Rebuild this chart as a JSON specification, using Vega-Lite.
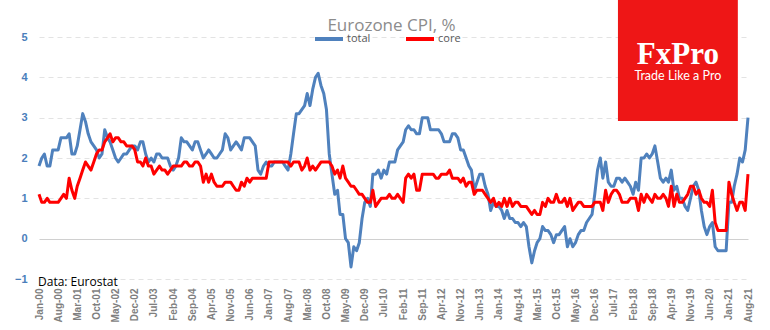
{
"$schema": "https://vega.github.io/schema/vega-lite/v6.json",
"width": 709, "height": 242,
"autosize": {"type": "none"},
"padding": {"left": 39, "top": 37, "right": 22, "bottom": 51},
"background": "white",
"config": {"view": {"stroke": null}, "font": "Open Sans"},
"datasets": {"cpi": [
{"d":"2000-01-01","total":1.8,"core":1.1},{"d":"2000-02-01","total":2.0,"core":0.9},{"d":"2000-03-01","total":2.1,"core":0.9},{"d":"2000-04-01","total":1.8,"core":1.0},{"d":"2000-05-01","total":1.8,"core":0.9},{"d":"2000-06-01","total":2.2,"core":0.9},{"d":"2000-07-01","total":2.2,"core":0.9},{"d":"2000-08-01","total":2.2,"core":0.9},{"d":"2000-09-01","total":2.5,"core":1.0},{"d":"2000-10-01","total":2.5,"core":1.1},{"d":"2000-11-01","total":2.5,"core":1.0},{"d":"2000-12-01","total":2.6,"core":1.5},
{"d":"2001-01-01","total":2.1,"core":1.2},{"d":"2001-02-01","total":2.1,"core":1.0},{"d":"2001-03-01","total":2.3,"core":1.3},{"d":"2001-04-01","total":2.7,"core":1.5},{"d":"2001-05-01","total":3.1,"core":1.7},{"d":"2001-06-01","total":2.9,"core":1.9},{"d":"2001-07-01","total":2.6,"core":1.8},{"d":"2001-08-01","total":2.4,"core":1.7},{"d":"2001-09-01","total":2.3,"core":1.9},{"d":"2001-10-01","total":2.2,"core":2.1},{"d":"2001-11-01","total":2.0,"core":2.2},{"d":"2001-12-01","total":2.1,"core":2.2},
{"d":"2002-01-01","total":2.7,"core":2.4},{"d":"2002-02-01","total":2.5,"core":2.5},{"d":"2002-03-01","total":2.4,"core":2.6},{"d":"2002-04-01","total":2.2,"core":2.4},{"d":"2002-05-01","total":2.0,"core":2.5},{"d":"2002-06-01","total":1.9,"core":2.5},{"d":"2002-07-01","total":2.0,"core":2.4},{"d":"2002-08-01","total":2.1,"core":2.4},{"d":"2002-09-01","total":2.1,"core":2.3},{"d":"2002-10-01","total":2.2,"core":2.3},{"d":"2002-11-01","total":2.3,"core":2.3},{"d":"2002-12-01","total":2.3,"core":2.2},
{"d":"2003-01-01","total":2.2,"core":1.9},{"d":"2003-02-01","total":2.4,"core":1.9},{"d":"2003-03-01","total":2.4,"core":1.8},{"d":"2003-04-01","total":2.1,"core":2.0},{"d":"2003-05-01","total":1.9,"core":1.8},{"d":"2003-06-01","total":2.0,"core":1.8},{"d":"2003-07-01","total":1.9,"core":1.6},{"d":"2003-08-01","total":2.1,"core":1.7},{"d":"2003-09-01","total":2.1,"core":1.8},{"d":"2003-10-01","total":2.0,"core":1.7},{"d":"2003-11-01","total":2.0,"core":1.7},{"d":"2003-12-01","total":2.0,"core":1.6},
{"d":"2004-01-01","total":1.8,"core":1.7},{"d":"2004-02-01","total":1.7,"core":1.8},{"d":"2004-03-01","total":1.8,"core":1.8},{"d":"2004-04-01","total":2.0,"core":1.8},{"d":"2004-05-01","total":2.5,"core":1.8},{"d":"2004-06-01","total":2.4,"core":1.9},{"d":"2004-07-01","total":2.4,"core":1.9},{"d":"2004-08-01","total":2.3,"core":1.8},{"d":"2004-09-01","total":2.2,"core":1.8},{"d":"2004-10-01","total":2.4,"core":1.9},{"d":"2004-11-01","total":2.4,"core":1.9},{"d":"2004-12-01","total":2.2,"core":1.8},
{"d":"2005-01-01","total":2.0,"core":1.4},{"d":"2005-02-01","total":2.1,"core":1.6},{"d":"2005-03-01","total":2.2,"core":1.4},{"d":"2005-04-01","total":2.1,"core":1.6},{"d":"2005-05-01","total":2.0,"core":1.4},{"d":"2005-06-01","total":2.0,"core":1.3},{"d":"2005-07-01","total":2.1,"core":1.3},{"d":"2005-08-01","total":2.2,"core":1.3},{"d":"2005-09-01","total":2.6,"core":1.4},{"d":"2005-10-01","total":2.5,"core":1.4},{"d":"2005-11-01","total":2.2,"core":1.4},{"d":"2005-12-01","total":2.3,"core":1.3},
{"d":"2006-01-01","total":2.4,"core":1.2},{"d":"2006-02-01","total":2.3,"core":1.2},{"d":"2006-03-01","total":2.2,"core":1.4},{"d":"2006-04-01","total":2.5,"core":1.3},{"d":"2006-05-01","total":2.5,"core":1.5},{"d":"2006-06-01","total":2.5,"core":1.4},{"d":"2006-07-01","total":2.4,"core":1.5},{"d":"2006-08-01","total":2.3,"core":1.5},{"d":"2006-09-01","total":1.7,"core":1.5},{"d":"2006-10-01","total":1.6,"core":1.5},{"d":"2006-11-01","total":1.8,"core":1.5},{"d":"2006-12-01","total":1.9,"core":1.5},
{"d":"2007-01-01","total":1.8,"core":1.9},{"d":"2007-02-01","total":1.8,"core":1.9},{"d":"2007-03-01","total":1.9,"core":1.9},{"d":"2007-04-01","total":1.9,"core":1.9},{"d":"2007-05-01","total":1.9,"core":1.9},{"d":"2007-06-01","total":1.9,"core":1.9},{"d":"2007-07-01","total":1.8,"core":1.9},{"d":"2007-08-01","total":1.7,"core":1.9},{"d":"2007-09-01","total":2.1,"core":1.8},{"d":"2007-10-01","total":2.6,"core":1.9},{"d":"2007-11-01","total":3.1,"core":1.9},{"d":"2007-12-01","total":3.1,"core":1.9},
{"d":"2008-01-01","total":3.2,"core":1.7},{"d":"2008-02-01","total":3.3,"core":1.8},{"d":"2008-03-01","total":3.6,"core":2.0},{"d":"2008-04-01","total":3.3,"core":1.7},{"d":"2008-05-01","total":3.7,"core":1.8},{"d":"2008-06-01","total":4.0,"core":1.7},{"d":"2008-07-01","total":4.1,"core":1.8},{"d":"2008-08-01","total":3.8,"core":1.9},{"d":"2008-09-01","total":3.6,"core":1.9},{"d":"2008-10-01","total":3.2,"core":1.9},{"d":"2008-11-01","total":2.1,"core":1.9},{"d":"2008-12-01","total":1.6,"core":1.8},
{"d":"2009-01-01","total":1.1,"core":1.6},{"d":"2009-02-01","total":1.2,"core":1.7},{"d":"2009-03-01","total":0.6,"core":1.5},{"d":"2009-04-01","total":0.6,"core":1.8},{"d":"2009-05-01","total":0.0,"core":1.5},{"d":"2009-06-01","total":-0.1,"core":1.4},{"d":"2009-07-01","total":-0.7,"core":1.3},{"d":"2009-08-01","total":-0.2,"core":1.3},{"d":"2009-09-01","total":-0.3,"core":1.2},{"d":"2009-10-01","total":-0.1,"core":1.1},{"d":"2009-11-01","total":0.5,"core":1.1},{"d":"2009-12-01","total":0.9,"core":1.0},
{"d":"2010-01-01","total":1.0,"core":0.9},{"d":"2010-02-01","total":0.8,"core":0.9},{"d":"2010-03-01","total":1.6,"core":1.2},{"d":"2010-04-01","total":1.6,"core":0.8},{"d":"2010-05-01","total":1.7,"core":0.9},{"d":"2010-06-01","total":1.5,"core":1.0},{"d":"2010-07-01","total":1.7,"core":1.0},{"d":"2010-08-01","total":1.6,"core":1.0},{"d":"2010-09-01","total":1.9,"core":1.1},{"d":"2010-10-01","total":1.9,"core":1.0},{"d":"2010-11-01","total":1.9,"core":1.0},{"d":"2010-12-01","total":2.2,"core":1.1},
{"d":"2011-01-01","total":2.3,"core":1.0},{"d":"2011-02-01","total":2.4,"core":0.9},{"d":"2011-03-01","total":2.7,"core":1.5},{"d":"2011-04-01","total":2.8,"core":1.6},{"d":"2011-05-01","total":2.7,"core":1.5},{"d":"2011-06-01","total":2.7,"core":1.6},{"d":"2011-07-01","total":2.6,"core":1.2},{"d":"2011-08-01","total":2.6,"core":1.2},{"d":"2011-09-01","total":3.0,"core":1.6},{"d":"2011-10-01","total":3.0,"core":1.6},{"d":"2011-11-01","total":3.0,"core":1.6},{"d":"2011-12-01","total":2.7,"core":1.6},
{"d":"2012-01-01","total":2.7,"core":1.6},{"d":"2012-02-01","total":2.7,"core":1.5},{"d":"2012-03-01","total":2.7,"core":1.5},{"d":"2012-04-01","total":2.6,"core":1.6},{"d":"2012-05-01","total":2.4,"core":1.6},{"d":"2012-06-01","total":2.4,"core":1.6},{"d":"2012-07-01","total":2.4,"core":1.7},{"d":"2012-08-01","total":2.6,"core":1.5},{"d":"2012-09-01","total":2.6,"core":1.5},{"d":"2012-10-01","total":2.5,"core":1.5},{"d":"2012-11-01","total":2.2,"core":1.4},{"d":"2012-12-01","total":2.2,"core":1.5},
{"d":"2013-01-01","total":2.0,"core":1.3},{"d":"2013-02-01","total":1.8,"core":1.4},{"d":"2013-03-01","total":1.7,"core":1.4},{"d":"2013-04-01","total":1.2,"core":1.1},{"d":"2013-05-01","total":1.4,"core":1.2},{"d":"2013-06-01","total":1.6,"core":1.2},{"d":"2013-07-01","total":1.6,"core":1.2},{"d":"2013-08-01","total":1.3,"core":1.1},{"d":"2013-09-01","total":1.1,"core":1.0},{"d":"2013-10-01","total":0.7,"core":0.9},{"d":"2013-11-01","total":0.9,"core":1.0},{"d":"2013-12-01","total":0.8,"core":0.8},
{"d":"2014-01-01","total":0.8,"core":0.9},{"d":"2014-02-01","total":0.7,"core":0.8},{"d":"2014-03-01","total":0.5,"core":1.0},{"d":"2014-04-01","total":0.7,"core":0.8},{"d":"2014-05-01","total":0.5,"core":1.0},{"d":"2014-06-01","total":0.5,"core":0.8},{"d":"2014-07-01","total":0.4,"core":0.9},{"d":"2014-08-01","total":0.4,"core":0.9},{"d":"2014-09-01","total":0.3,"core":0.8},{"d":"2014-10-01","total":0.4,"core":0.8},{"d":"2014-11-01","total":0.3,"core":0.8},{"d":"2014-12-01","total":-0.2,"core":0.7},
{"d":"2015-01-01","total":-0.6,"core":0.6},{"d":"2015-02-01","total":-0.3,"core":0.7},{"d":"2015-03-01","total":-0.1,"core":0.6},{"d":"2015-04-01","total":0.0,"core":0.6},{"d":"2015-05-01","total":0.3,"core":0.9},{"d":"2015-06-01","total":0.2,"core":0.8},{"d":"2015-07-01","total":0.2,"core":1.0},{"d":"2015-08-01","total":0.1,"core":0.9},{"d":"2015-09-01","total":-0.1,"core":0.9},{"d":"2015-10-01","total":0.1,"core":1.1},{"d":"2015-11-01","total":0.1,"core":0.9},{"d":"2015-12-01","total":0.2,"core":0.9},
{"d":"2016-01-01","total":0.3,"core":1.0},{"d":"2016-02-01","total":-0.2,"core":0.8},{"d":"2016-03-01","total":0.0,"core":1.0},{"d":"2016-04-01","total":-0.2,"core":0.7},{"d":"2016-05-01","total":-0.1,"core":0.8},{"d":"2016-06-01","total":0.1,"core":0.9},{"d":"2016-07-01","total":0.2,"core":0.9},{"d":"2016-08-01","total":0.2,"core":0.8},{"d":"2016-09-01","total":0.4,"core":0.8},{"d":"2016-10-01","total":0.5,"core":0.8},{"d":"2016-11-01","total":0.6,"core":0.8},{"d":"2016-12-01","total":1.1,"core":0.9},
{"d":"2017-01-01","total":1.7,"core":0.9},{"d":"2017-02-01","total":2.0,"core":0.9},{"d":"2017-03-01","total":1.5,"core":0.7},{"d":"2017-04-01","total":1.9,"core":1.2},{"d":"2017-05-01","total":1.4,"core":0.9},{"d":"2017-06-01","total":1.3,"core":1.1},{"d":"2017-07-01","total":1.3,"core":1.2},{"d":"2017-08-01","total":1.5,"core":1.2},{"d":"2017-09-01","total":1.5,"core":1.1},{"d":"2017-10-01","total":1.4,"core":0.9},{"d":"2017-11-01","total":1.5,"core":0.9},{"d":"2017-12-01","total":1.4,"core":0.9},
{"d":"2018-01-01","total":1.3,"core":1.0},{"d":"2018-02-01","total":1.1,"core":1.0},{"d":"2018-03-01","total":1.4,"core":1.0},{"d":"2018-04-01","total":1.2,"core":0.7},{"d":"2018-05-01","total":2.0,"core":1.1},{"d":"2018-06-01","total":2.0,"core":0.9},{"d":"2018-07-01","total":2.1,"core":1.1},{"d":"2018-08-01","total":2.0,"core":1.0},{"d":"2018-09-01","total":2.1,"core":0.9},{"d":"2018-10-01","total":2.3,"core":1.1},{"d":"2018-11-01","total":1.9,"core":1.0},{"d":"2018-12-01","total":1.5,"core":1.0},
{"d":"2019-01-01","total":1.4,"core":1.1},{"d":"2019-02-01","total":1.5,"core":1.0},{"d":"2019-03-01","total":1.4,"core":0.8},{"d":"2019-04-01","total":1.7,"core":1.3},{"d":"2019-05-01","total":1.2,"core":0.8},{"d":"2019-06-01","total":1.3,"core":1.1},{"d":"2019-07-01","total":1.0,"core":0.9},{"d":"2019-08-01","total":1.0,"core":0.9},{"d":"2019-09-01","total":0.8,"core":1.0},{"d":"2019-10-01","total":0.7,"core":1.1},{"d":"2019-11-01","total":1.0,"core":1.3},{"d":"2019-12-01","total":1.3,"core":1.3},
{"d":"2020-01-01","total":1.4,"core":1.1},{"d":"2020-02-01","total":1.2,"core":1.2},{"d":"2020-03-01","total":0.7,"core":1.0},{"d":"2020-04-01","total":0.3,"core":0.9},{"d":"2020-05-01","total":0.1,"core":0.9},{"d":"2020-06-01","total":0.3,"core":0.8},{"d":"2020-07-01","total":0.4,"core":1.2},{"d":"2020-08-01","total":-0.2,"core":0.4},{"d":"2020-09-01","total":-0.3,"core":0.2},{"d":"2020-10-01","total":-0.3,"core":0.2},{"d":"2020-11-01","total":-0.3,"core":0.2},{"d":"2020-12-01","total":-0.3,"core":0.2},
{"d":"2021-01-01","total":0.9,"core":1.4},{"d":"2021-02-01","total":0.9,"core":1.1},{"d":"2021-03-01","total":1.3,"core":0.9},{"d":"2021-04-01","total":1.6,"core":0.7},{"d":"2021-05-01","total":2.0,"core":0.9},{"d":"2021-06-01","total":1.9,"core":0.9},{"d":"2021-07-01","total":2.2,"core":0.7},{"d":"2021-08-01","total":3.0,"core":1.6}
]},
"layer": [
{
"data": {"name": "cpi"},
"transform": [{"fold": ["total", "core"], "as": ["series", "value"]}],
"mark": {"type": "line", "strokeWidth": 3, "strokeJoin": "round"},
"encoding": {
"x": {"field": "d", "type": "temporal",
"scale": {"type": "utc", "nice": false, "domain": [946684800000, 1627776000000]},
"axis": {"title": null, "grid": false, "domain": false, "ticks": false, "tickCount": 60, "labelAngle": -90, "labelPadding": 9, "labelColor": "#7f7f7f", "labelFont": "Liberation Sans", "labelFontWeight": "bold", "labelFontSize": 10, "labelOverlap": false, "labelBound": false, "labelFlush": false,
"labelExpr": "utcFormat(datum.value, '%b-%y')",
"values": [946684800000,965088000000,983404800000,1001894400000,1020211200000,1038700800000,1057017600000,1075593600000,1093996800000,1112313600000,1130803200000,1149120000000,1167609600000,1185926400000,1204329600000,1222819200000,1241136000000,1259625600000,1277942400000,1296518400000,1314835200000,1333238400000,1351728000000,1370044800000,1388534400000,1406851200000,1425168000000,1443657600000,1462060800000,1480550400000,1498867200000,1517443200000,1535760000000,1554076800000,1572566400000,1590969600000,1609459200000,1627776000000]
}},
"y": {"field": "value", "type": "quantitative",
"scale": {"domain": [-1, 5], "nice": false, "zero": false},
"axis": {"title": null, "values": [-1, 0, 1, 2, 3, 4, 5], "domain": false, "ticks": false, "labelPadding": 12, "labelColor": "#4a7ebb", "labelFont": "Liberation Sans", "labelFontWeight": "bold", "labelFontSize": 11,
"gridColor": {"condition": {"test": "datum.value === 0", "value": "#d0d0d0"}, "value": "#e3e3e3"},
"gridDash": {"condition": {"test": "datum.value === 0", "value": []}, "value": [5, 4]},
"gridWidth": 1}},
"color": {"field": "series", "type": "nominal",
"scale": {"domain": ["total", "core"], "range": ["#4f81bd", "#ff0000"]},
"legend": {"title": null, "orient": "none", "legendX": 274, "legendY": -14, "direction": "horizontal", "symbolType": "stroke", "symbolSize": 784, "symbolStrokeWidth": 4, "labelFontSize": 11, "labelColor": "#595959", "labelFont": "Open Sans", "labelOffset": 2, "columnPadding": 27, "padding": 0}}
}
},
{
"data": {"values": [{}]},
"mark": {"type": "text", "align": "center", "baseline": "alphabetic", "font": "Open Sans", "fontSize": 17, "color": "#8c8c8c", "clip": false},
"encoding": {
"x": {"datum": 1285286400000, "type": "temporal"},
"y": {"datum": 5.15, "type": "quantitative"},
"text": {"value": "Eurozone CPI, %"}
}
},
{
"data": {"values": [{}]},
"mark": {"type": "rect", "color": "#ee1616", "clip": false},
"encoding": {
"x": {"datum": 1502841600000, "type": "temporal"},
"x2": {"datum": 1618012800000},
"y": {"datum": 5.92, "type": "quantitative"},
"y2": {"datum": 2.92}
}
},
{
"data": {"values": [{}]},
"mark": {"type": "text", "align": "center", "baseline": "alphabetic", "font": "Liberation Serif", "fontSize": 31, "fontWeight": "bold", "color": "white", "clip": false},
"encoding": {
"x": {"datum": 1560384000000, "type": "temporal"},
"y": {"datum": 4.33, "type": "quantitative"},
"text": {"value": "FxPro"}
}
},
{
"data": {"values": [{}]},
"mark": {"type": "text", "align": "center", "baseline": "alphabetic", "font": "Lato", "fontSize": 12.5, "color": "white", "clip": false},
"encoding": {
"x": {"datum": 1560384000000, "type": "temporal"},
"y": {"datum": 3.93, "type": "quantitative"},
"text": {"value": "Trade Like a Pro"}
}
},
{
"data": {"values": [{}]},
"mark": {"type": "text", "align": "left", "baseline": "middle", "font": "Open Sans", "fontSize": 12, "color": "black", "dx": -1, "clip": false},
"encoding": {
"x": {"datum": 946684800000, "type": "temporal"},
"y": {"datum": -1.07, "type": "quantitative"},
"text": {"value": "Data: Eurostat"}
}
}
]
}
